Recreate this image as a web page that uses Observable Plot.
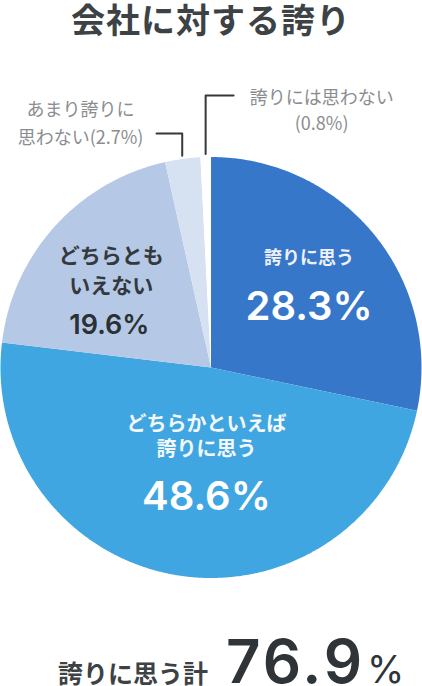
<!DOCTYPE html>
<html><head><meta charset="utf-8">
<script src="https://cdn.jsdelivr.net/npm/d3@7"></script>
<script src="https://cdn.jsdelivr.net/npm/@observablehq/plot@0.6"></script>
<style>
body{margin:0;background:#fff;width:422px;height:686px;position:relative;overflow:hidden;font-family:"Noto Sans CJK JP",sans-serif;}
#title{position:absolute;left:0;top:0;width:422px;text-align:center;font-size:34px;font-weight:700;color:#3d4245;line-height:38px;letter-spacing:1px;}
#chart{position:absolute;left:0;top:70px;}
#total{position:absolute;left:58px;top:637px;display:flex;align-items:baseline;color:#2e3437;}
#total .tl{font-size:25px;font-weight:700;color:#3d4245;line-height:30px;}
#total .tn{font-family:Inter,sans-serif;font-size:60px;font-weight:600;margin-left:18px;letter-spacing:3px;line-height:48px;}
#total .tp{font-family:Inter,sans-serif;font-size:38px;font-weight:400;margin-left:2px;line-height:36px;}
</style></head><body>
<div id="title">会社に対する誇り</div>
<div id="chart"></div>
<div id="total"><span class="tl">誇りに思う計</span><span class="tn" id="totalNum"></span><span class="tp">%</span></div>
<script>
// ---- data ----
const categories = ["誇りに思う", "どちらかといえば誇りに思う", "どちらともいえない", "あまり誇りに思わない", "誇りには思わない"];
const displayLabels = ["誇りに思う", "どちらかといえば\n誇りに思う", "どちらとも\nいえない", "あまり誇りに\n思わない", "誇りには思わない"];
const values = [28.3, 48.6, 19.6, 2.7, 0.8];
const sliceColors = ["#3677c9", "#40a6e1", "#b5c8e6", "#d6e2f2", "#ffffff"];

const rows = categories.map((c, i) => ({category: c, label: displayLabels[i], value: values[i]}));

// ---- geometry from d3.pie (unit circle, angles clockwise from top) ----
const arcs = d3.pie().sort(null).value(d => d.value)(rows);
const step = Math.PI / 360;
const features = arcs.map(a => {
  const n = Math.max(2, Math.ceil((a.endAngle - a.startAngle) / step));
  const ring = [[0, 0]];
  for (let i = 0; i <= n; i++) {
    const t = a.startAngle + (a.endAngle - a.startAngle) * i / n;
    ring.push([Math.sin(t), -Math.cos(t)]);
  }
  ring.push([0, 0]);
  return {type: "Feature", properties: a.data, geometry: {type: "Polygon", coordinates: [ring]}};
});
const mid = a => (a.startAngle + a.endAngle) / 2;
const polar = (a, r) => ({x: Math.sin(mid(a)) * r, y: -Math.cos(mid(a)) * r});
const anchor = (i, r) => [{...polar(arcs[i], r), label: rows[i].label, pct: rows[i].value.toFixed(1) + "%"}];

// leader lines for the tiny slices (unit-circle coordinates)
function leader(i, elbowY, run) {
  const p = polar(arcs[i], 1.015);
  return [
    {i, x: p.x, y: p.y},
    {i, x: p.x, y: elbowY},
    {i, x: p.x + run, y: elbowY}
  ];
}
const lead4 = leader(4, -1.292, 0.133);
const lead3 = leader(3, -1.112, -0.122);
const outsideLabel = (L, i, sep) => [{x: L[2].x, y: L[2].y, text: rows[i].label + sep + "(" + rows[i].value.toFixed(1) + "%)"}];

const jp = "'Noto Sans CJK JP', sans-serif";
const num = "Inter, 'Noto Sans CJK JP', sans-serif";

const plot = Plot.plot({
  width: 422,
  height: 520,
  marginTop: 86,
  marginBottom: 12,
  marginLeft: 0,
  marginRight: 1,
  projection: {type: "identity", domain: {type: "FeatureCollection", features}, clip: false},
  color: {domain: categories, range: sliceColors},
  marks: [
    Plot.geo(features, {fill: d => d.properties.category, stroke: "none"}),
    // slice 0
    Plot.text(anchor(0, 0.6), {x: "x", y: "y", text: "label", dy: -30, fill: "#eef0fa", fontSize: 18, fontWeight: 700, fontFamily: jp}),
    Plot.text(anchor(0, 0.6), {x: "x", y: "y", text: "pct", dy: 19, fill: "white", fontSize: 40, fontWeight: 600, fontFamily: num, ariaLabel: "pct-value"}),
    // slice 1
    Plot.text(anchor(1, 0.6), {x: "x", y: "y", text: "label", dx: 16, dy: -56.5, lineHeight: 1.25, fill: "#f4f8fc", fontSize: 20, fontWeight: 700, fontFamily: jp}),
    Plot.text(anchor(1, 0.6), {x: "x", y: "y", text: "pct", dx: 16, dy: 5, fill: "white", fontSize: 40, fontWeight: 600, fontFamily: num, ariaLabel: "pct-value"}),
    // slice 2
    Plot.text(anchor(2, 0.6), {x: "x", y: "y", text: "label", dx: -6, dy: -14.5, lineHeight: 1.43, fill: "#33393c", fontSize: 21, fontWeight: 700, fontFamily: jp}),
    Plot.text(anchor(2, 0.6), {x: "x", y: "y", text: "pct", dx: -8, dy: 42.5, fill: "#2b3033", fontSize: 27, fontWeight: 600, fontFamily: num, ariaLabel: "pct-value"}),
    // leaders
    Plot.line(lead4, {x: "x", y: "y", stroke: "#33383b", strokeWidth: 2}),
    Plot.line(lead3, {x: "x", y: "y", stroke: "#33383b", strokeWidth: 2}),
    Plot.text(outsideLabel(lead4, 4, "\n"), {x: "x", y: "y", text: "text", dx: 88, dy: 13, lineHeight: 1.45, fill: "#8a8d90", fontSize: 18, fontWeight: 400, fontFamily: jp}),
    Plot.text(outsideLabel(lead3, 3, ""), {x: "x", y: "y", text: "text", dx: -76, dy: -12, lineHeight: 1.55, fill: "#8a8d90", fontSize: 18, fontWeight: 400, fontFamily: jp})
  ]
});
document.getElementById("chart").appendChild(plot);

// smaller, lighter percent sign on the in-slice values
d3.select(plot).selectAll('g[aria-label="pct-value"] text').each(function() {
  const t = this.textContent;
  if (t.endsWith("%")) {
    this.textContent = t.slice(0, -1);
    d3.select(this).append("tspan").attr("font-size", "0.72em").attr("font-weight", 400).attr("dx", 2).text("%");
  }
});

document.getElementById("totalNum").textContent = (values[0] + values[1]).toFixed(1);
</script>
</body></html>
